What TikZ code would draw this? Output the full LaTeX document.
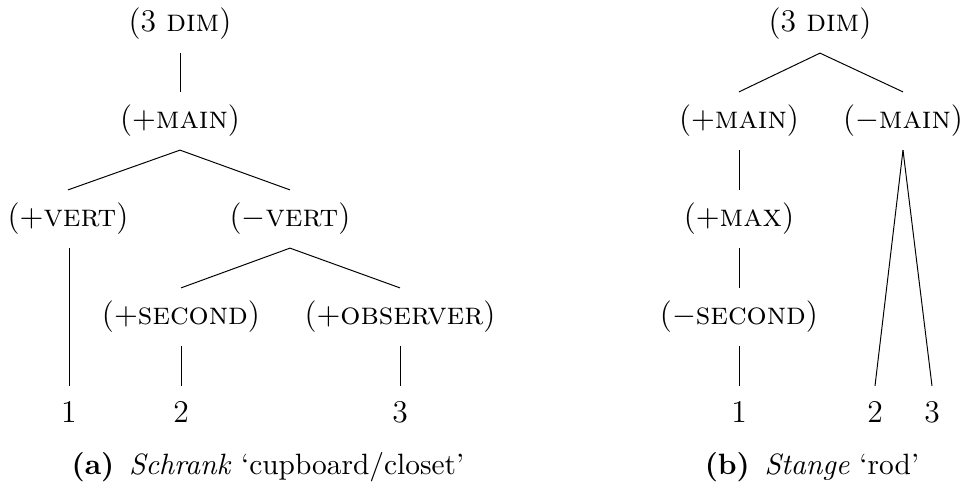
\documentclass[tikz,border=0pt]{standalone}
\begin{document}
\begin{tikzpicture}[x=0.3572pt,y=-0.3572pt,
  every node/.style={font=\fontsize{11.3}{13.6}\selectfont},
  feat/.style={inner xsep=2pt, inner ysep=5.2pt, text height=0.75em, text depth=0.25em},
  branch/.style={line width=0.35pt},
  caption/.style={inner sep=0pt, font=\fontsize{10.5}{12.6}\selectfont}]
\useasboundingbox (0,0) rectangle (964,491);

% (a) Schrank
\node[feat] (a0)  at (180,24)  {(3 \textsc{dim})};
\node[feat] (a1)  at (180,121) {($+$\textsc{main})};
\node[feat] (a2)  at (68,219)  {($+$\textsc{vert})};
\node[feat] (a3)  at (290,219) {($-$\textsc{vert})};
\node[feat] (a4)  at (181,317) {($+$\textsc{second})};
\node[feat] (a5)  at (400,317) {($+$\textsc{observer})};
\node[feat] (a6)  at (69,415)  {1};
\node[feat] (a7)  at (181,415) {2};
\node[feat] (a8)  at (400,415) {3};

\draw[branch] (a0.south) -- (a1.north);
\draw[branch] (a1.south) -- (a2.north);
\draw[branch] (a1.south) -- (a3.north);
\draw[branch] (a2.south -| a6.north) -- (a6.north);
\draw[branch] (a3.south) -- (a4.north);
\draw[branch] (a3.south) -- (a5.north);
\draw[branch] (a4.south) -- (a7.north);
\draw[branch] (a5.south) -- (a8.north);

\node[caption] (capa) at (268,467) {\textbf{(a)}\enspace\textit{Schrank} `cupboard/closet'};

% (b) Stange
\node[feat] (b0)  at (820,24)  {(3 \textsc{dim})};
\node[feat] (b1)  at (739,121) {($+$\textsc{main})};
\node[feat] (b2)  at (903,121) {($-$\textsc{main})};
\node[feat] (b3)  at (739,219) {($+$\textsc{max})};
\node[feat] (b4)  at (739,317) {($-$\textsc{second})};
\node[feat] (b5)  at (739,415) {1};
\node[feat] (b6)  at (875,415) {2};
\node[feat] (b7)  at (932,415) {3};

\draw[branch] (b0.south) -- (b1.north);
\draw[branch] (b0.south) -- (b2.north);
\draw[branch] (b1.south) -- (b3.north);
\draw[branch] (b3.south) -- (b4.north);
\draw[branch] (b4.south) -- (b5.north);
\draw[branch] (b2.south) -- (b6.north);
\draw[branch] (b2.south) -- (b7.north);

\node[caption] (capb) at (812,467) {\textbf{(b)}\enspace\textit{Stange} `rod'};
\end{tikzpicture}
\end{document}
